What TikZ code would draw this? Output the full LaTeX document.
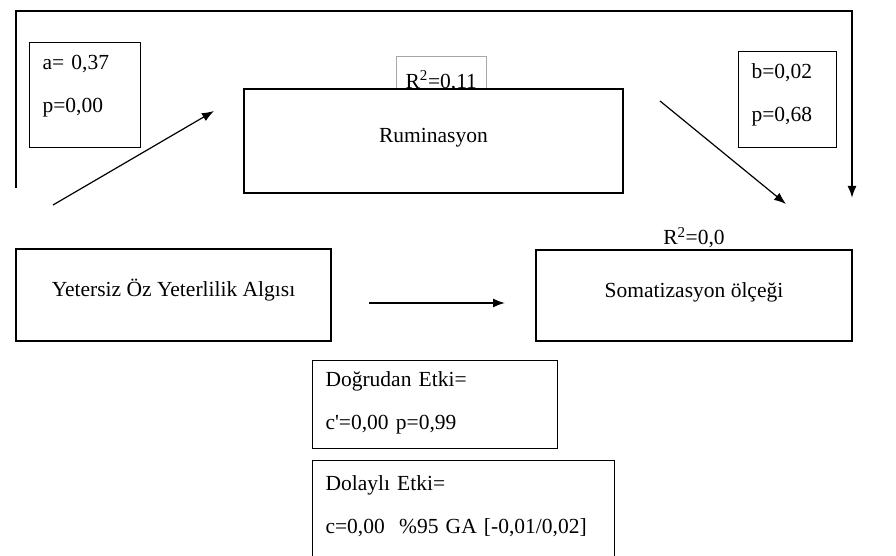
\documentclass[tikz,border=0pt]{standalone}
\usepackage{fontspec}
\setmainfont{Liberation Serif}
\usetikzlibrary{positioning,calc,arrows.meta}

\begin{document}
\begin{tikzpicture}[x=1pt, y=-1pt, font=\fontsize{21.5}{26}\selectfont,
    varbox/.style={draw, line width=1.9pt, inner sep=0pt, text height=14pt, text depth=11pt},
    statbox/.style={draw, line width=1.1pt, anchor=north west, align=left, inner xsep=13pt,
      inner ysep=0pt, text height=12pt, font=\fontsize{21.5}{43}\selectfont},
    path/.style={line width=1.2pt, -{Latex[length=12pt, width=9pt]}}]
  \useasboundingbox (0,0) rectangle (896,556);
  % R kare kutusu (Ruminasyon arkasinda)
  \node[draw=black!35, line width=0.6pt, anchor=north west, minimum width=90pt, minimum height=33pt,
    inner sep=0pt, text height=32pt, text depth=3pt] (rsqM) at (396,56) {R\textsuperscript{2}=0,11};
  \node[varbox, fill=white, minimum width=379pt, minimum height=104pt] (rumin) at (433.5,141) {Ruminasyon};
  \node[varbox, minimum width=315pt, minimum height=92pt] (yoya) at (173.5,295) {Yetersiz Öz Yeterlilik Algısı};
  \node[varbox, minimum width=316pt, minimum height=91pt] (somat) at (694,295.5) {Somatizasyon ölçeği};
  \node[above=1pt of somat, inner sep=0pt] (rsqY) {R\textsuperscript{2}=0,0};
  % katsayi kutulari
  \node[statbox, text width=85pt, minimum height=105pt, text depth=63pt] (apath)
    at (29,42) {a= 0,37\\p=0,00};
  \node[statbox, text width=72pt, minimum height=96pt, text depth=54pt] (bpath)
    at (738,51) {b=0,02\\p=0,68};
  \node[statbox, text width=219pt, minimum height=88pt, text depth=48pt] (direct)
    at (312,360) {Do\u{g}rudan Etki=\\c\textquotesingle=0,00 p=0,99};
  \node[statbox, text width=276pt, minimum height=110pt, text depth=62pt] (indirect)
    at (312,460) {Dolaylı Etki=\\c=0,00~ \%95 GA [-0,01/0,02]};
  % oklar
  \coordinate (aS) at (53,205);
  \coordinate (aE) at (214,111);
  \coordinate (bS) at (660,101);
  \coordinate (bE) at (786,204);
  \coordinate (cS) at (369,303);
  \coordinate (cE) at (505,303);
  \coordinate (frameS) at (16,188);
  \coordinate (frameE) at (852,198);
  \draw[path] (aS) -- (aE);
  \draw[path] (bS) -- (bE);
  \draw[path, line width=1.6pt] (cS) -- (cE);
  \draw[line width=2pt, -{Latex[length=12pt, width=9pt]}] (frameS) |- (852,11) -- (frameE);
\end{tikzpicture}
\end{document}
